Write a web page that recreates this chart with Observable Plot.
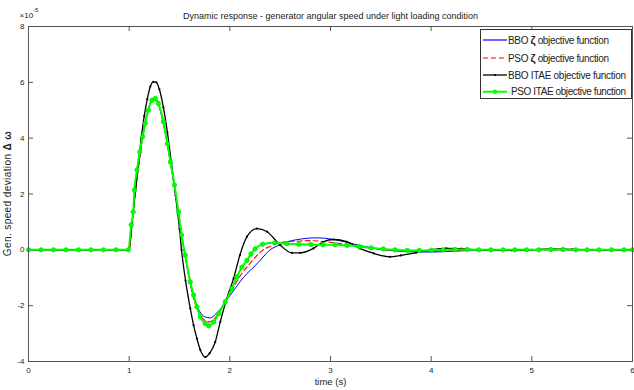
<!DOCTYPE html>
<html><head><meta charset="utf-8">
<script src="https://cdn.jsdelivr.net/npm/d3@7"></script>
<script src="https://cdn.jsdelivr.net/npm/@observablehq/plot@0.6"></script>
<style>
body{margin:0;background:#fff;}
#wrap{position:relative;width:634px;height:390px;font-family:"Liberation Sans",Arial,sans-serif;}
#legend{position:absolute;left:480px;top:29px;}
</style></head><body><div id="wrap"></div>
<script>
// ---------- data (values in units of 1e-5) ----------
const xTicks = [0, 1, 2, 3, 4, 5, 6];
const yTicks = [-4, -2, 0, 2, 4, 6, 8];
const titleText = "Dynamic response - generator angular speed under light loading condition";
const xLabel = "time (s)";
const seriesNames = ["BBO ζ objective function", "PSO ζ objective function", "BBO ITAE objective function", "PSO ITAE objective function"];

const tBBOz = [0, 0.5, 1.0, 1.03, 1.06, 1.09, 1.12, 1.15, 1.18, 1.21, 1.24, 1.27, 1.30, 1.34, 1.38, 1.42, 1.46, 1.50, 1.54, 1.58, 1.62, 1.66, 1.70, 1.75, 1.806, 1.86, 1.91, 1.954, 2.02, 2.10, 2.17, 2.24, 2.32, 2.40, 2.48, 2.57, 2.66, 2.76, 2.85, 2.93, 3.03, 3.15, 3.30, 3.45, 3.60, 3.80, 4.00, 4.20, 4.40, 4.60, 5.00, 5.50, 6.00];
const vBBOz = [0, 0, 0, 1.0, 2.0, 2.9, 3.7, 4.4, 4.9, 5.25, 5.38, 5.35, 5.1, 4.5, 3.75, 2.9, 2.0, 1.05, 0.1, -0.7, -1.4, -1.9, -2.2, -2.4, -2.44, -2.3, -2.1, -1.86, -1.55, -1.15, -0.85, -0.61, -0.3, 0.0, 0.15, 0.29, 0.36, 0.41, 0.43, 0.42, 0.37, 0.28, 0.15, 0.05, -0.02, -0.07, -0.08, -0.05, -0.02, 0.0, 0.01, 0.0, 0.0];

const tPSOz = [0, 0.5, 1.0, 1.03, 1.06, 1.09, 1.12, 1.15, 1.18, 1.21, 1.24, 1.27, 1.30, 1.34, 1.38, 1.42, 1.46, 1.50, 1.54, 1.58, 1.62, 1.66, 1.70, 1.75, 1.80, 1.85, 1.90, 1.954, 2.02, 2.10, 2.20, 2.27, 2.33, 2.40, 2.47, 2.57, 2.67, 2.78, 2.90, 3.00, 3.15, 3.30, 3.45, 3.60, 3.80, 4.00, 4.20, 4.40, 4.80, 5.40, 6.00];
const vPSOz = [0, 0, 0, 1.0, 2.0, 2.9, 3.7, 4.4, 4.9, 5.25, 5.4, 5.37, 5.15, 4.55, 3.8, 2.95, 2.05, 1.1, 0.15, -0.7, -1.45, -1.98, -2.3, -2.52, -2.58, -2.45, -2.2, -1.86, -1.45, -0.95, -0.49, -0.2, 0.0, 0.12, 0.23, 0.29, 0.31, 0.33, 0.31, 0.27, 0.2, 0.1, 0.03, -0.02, -0.06, -0.06, -0.04, -0.01, 0.0, 0.0, 0.0];

const tBBOitae = [0, 0.124, 0.248, 0.372, 0.496, 0.62, 0.744, 0.868, 0.992, 1.03, 1.06, 1.09, 1.12, 1.15, 1.18, 1.21, 1.24, 1.27, 1.30, 1.34, 1.38, 1.42, 1.46, 1.50, 1.52, 1.56, 1.607, 1.64, 1.673, 1.706, 1.756, 1.80, 1.855, 1.905, 1.97, 2.037, 2.10, 2.17, 2.27, 2.37, 2.50, 2.616, 2.70, 2.83, 2.93, 3.03, 3.16, 3.29, 3.43, 3.59, 3.70, 3.85, 4.00, 4.15, 4.30, 4.45, 4.60, 4.80, 5.00, 5.20, 5.40, 5.60, 5.80, 6.00];
const vBBOitae = [0, 0, 0, 0, 0, 0, 0, 0, 0, 1.0, 2.1, 3.1, 4.0, 4.8, 5.4, 5.85, 6.02, 6.0, 5.75, 5.1, 4.2, 3.1, 1.95, 0.75, 0.0, -1.1, -2.1, -2.7, -3.18, -3.58, -3.84, -3.7, -3.3, -2.58, -1.74, -1.03, -0.19, 0.47, 0.76, 0.65, 0.17, -0.11, -0.11, 0.05, 0.29, 0.37, 0.29, 0.05, -0.13, -0.25, -0.2, -0.1, 0.0, 0.05, 0.04, 0.0, -0.02, -0.02, 0.0, 0.03, 0.02, 0.0, -0.01, 0.0];

const tPSOitae = [0, 0.124, 0.248, 0.372, 0.496, 0.62, 0.744, 0.868, 0.992, 1.02, 1.04, 1.052, 1.078, 1.105, 1.134, 1.16, 1.19, 1.227, 1.26, 1.29, 1.34, 1.38, 1.41, 1.45, 1.49, 1.52, 1.557, 1.607, 1.64, 1.673, 1.706, 1.756, 1.79, 1.84, 1.89, 1.954, 2.02, 2.07, 2.12, 2.17, 2.21, 2.25, 2.325, 2.445, 2.565, 2.685, 2.805, 2.925, 3.045, 3.165, 3.285, 3.405, 3.525, 3.641, 3.763, 3.882, 4.005, 4.12, 4.236, 4.358, 4.474, 4.593, 4.715, 4.831, 4.947, 5.069, 5.188, 5.31, 5.437, 5.549, 5.668, 5.791, 5.916, 6.0];
const vPSOitae = [0, 0, 0, 0, 0, 0, 0, 0, 0, 0.89, 1.36, 2.14, 2.86, 3.51, 4.05, 4.53, 5.0, 5.36, 5.42, 5.24, 4.59, 3.8, 3.15, 2.32, 1.36, 0.53, -0.19, -1.15, -1.62, -2.04, -2.4, -2.64, -2.72, -2.58, -2.28, -1.86, -1.39, -0.97, -0.62, -0.38, -0.15, 0.03, 0.2, 0.25, 0.22, 0.2, 0.19, 0.18, 0.18, 0.16, 0.12, 0.07, 0.03, 0.0, -0.02, -0.02, -0.01, 0.0, 0.01, 0.01, 0.0, 0.0, 0.0, 0.0, 0.0, 0.0, 0.01, 0.01, 0.0, 0.0, 0.0, 0.0, 0.0, 0.0];

// ---------- build tables ----------
const toRows = (ts, vs) => ts.map((t, i) => ({t, v: vs[i]}));
const dBBOz = toRows(tBBOz, vBBOz);
const dPSOz = toRows(tPSOz, vPSOz);
const dBBOitae = toRows(tBBOitae, vBBOitae);
const dPSOitae = toRows(tPSOitae, vPSOitae);

const W = 634, H = 390, mL = 28, mR = 2, mT = 26, mB = 29;
const pw = W - mL - mR, ph = H - mT - mB;
const font = "Liberation Sans, Arial, Helvetica, sans-serif";
const axisCol = "#555";

const chart = Plot.plot({
  width: W, height: H,
  marginLeft: mL, marginRight: mR, marginTop: mT, marginBottom: mB,
  style: {fontFamily: font, fontSize: "8px", color: "#222", background: "#fff"},
  x: {domain: [0, 6]},
  y: {domain: [-4, 8]},
  marks: [
    Plot.axisX({ticks: xTicks, tickSize: 0, tickPadding: 6, label: null, tickFormat: d => String(d)}),
    Plot.axisY({ticks: yTicks, tickSize: 0, tickPadding: 4, label: null, tickFormat: d => String(d)}),
    Plot.tickX(xTicks, {x: d => d, insetTop: ph - 5, stroke: axisCol}),
    Plot.tickX(xTicks, {x: d => d, insetBottom: ph - 5, stroke: axisCol}),
    Plot.tickY(yTicks, {y: d => d, insetRight: pw - 5, stroke: axisCol}),
    Plot.tickY(yTicks, {y: d => d, insetLeft: pw - 5, stroke: axisCol}),
    Plot.line(dBBOz, {x: "t", y: "v", stroke: "#0000ff", strokeWidth: 1, curve: "monotone-x"}),
    Plot.line(dPSOz, {x: "t", y: "v", stroke: "#ff0000", strokeWidth: 1.1, strokeDasharray: "5,3", curve: "monotone-x"}),
    Plot.line(dBBOitae, {x: "t", y: "v", stroke: "#000000", strokeWidth: 1.3, curve: "monotone-x"}),
    Plot.dot(dBBOitae, {x: "t", y: "v", r: 1.1, fill: "#000000"}),
    Plot.line(dPSOitae, {x: "t", y: "v", stroke: "#00ff00", strokeWidth: 2, curve: "monotone-x"}),
    Plot.dot(dPSOitae, {x: "t", y: "v", r: 2.2, fill: "#00ff00", stroke: "#00ee00", strokeWidth: 0.8}),
    Plot.frame({stroke: axisCol}),
    Plot.text([titleText], {frameAnchor: "top", dy: -14, fontSize: 9, fill: "#222"}),
    Plot.text([xLabel], {frameAnchor: "bottom", dy: 23, fontSize: 9.5, fill: "#222"})
  ]
});

const wrap = document.getElementById("wrap");
wrap.appendChild(chart);

// y label with bold symbol, and exponent annotation
const svg = d3.select(chart);
const yl = svg.append("text")
  .attr("transform", `translate(11,${mT + ph / 2}) rotate(-90)`)
  .attr("text-anchor", "middle").attr("font-size", 10).attr("letter-spacing", 0.4).attr("fill", "#222")
  .attr("font-family", font);
yl.append("tspan").text("Gen. speed deviation ");
yl.append("tspan").attr("font-weight", "bold").text("Δ ω");

const ex = svg.append("text").attr("x", 29).attr("y", 18).attr("font-size", 8).attr("fill", "#222").attr("font-family", font);
ex.append("tspan").text("×10");
ex.append("tspan").attr("dy", -6).attr("font-size", 6).text("-5");

// legend
const lg = d3.select(wrap).append("svg").attr("id", "legend")
  .attr("width", 153).attr("height", 71);
lg.append("rect").attr("x", 0.5).attr("y", 0.5).attr("width", 151).attr("height", 69)
  .attr("fill", "#fff").attr("stroke", "#333");
const styles = [
  {stroke: "#0000ff", dash: null, w: 1.2, marker: 0, tx: 28, len: 101},
  {stroke: "#ff0000", dash: "5,3", w: 1.2, marker: 0, tx: 28, len: 101},
  {stroke: "#000000", dash: null, w: 1.3, marker: 1.1, tx: 28, len: 118},
  {stroke: "#00ff00", dash: null, w: 2, marker: 2.2, tx: 31, len: 115}
];
const rowsY = [11, 29, 46, 62.7];
seriesNames.forEach((name, i) => {
  const s = styles[i], y = rowsY[i];
  lg.append("line").attr("x1", 3).attr("x2", 27).attr("y1", y).attr("y2", y)
    .attr("stroke", s.stroke).attr("stroke-width", s.w).attr("stroke-dasharray", s.dash);
  if (s.marker) lg.append("circle").attr("cx", 15).attr("cy", y).attr("r", s.marker).attr("fill", s.stroke);
  const tx = lg.append("text").attr("x", s.tx).attr("y", y + 3.6)
    .attr("font-size", 10).attr("fill", "#222").attr("font-family", font)
    .attr("textLength", s.len).attr("lengthAdjust", "spacing");
  const parts = name.split("ζ");
  tx.append("tspan").text(parts[0]);
  if (parts.length > 1) {
    tx.append("tspan").attr("font-weight", "bold").attr("font-size", 11).text("ζ");
    tx.append("tspan").text(parts[1]);
  }
});
</script>
</body></html>
